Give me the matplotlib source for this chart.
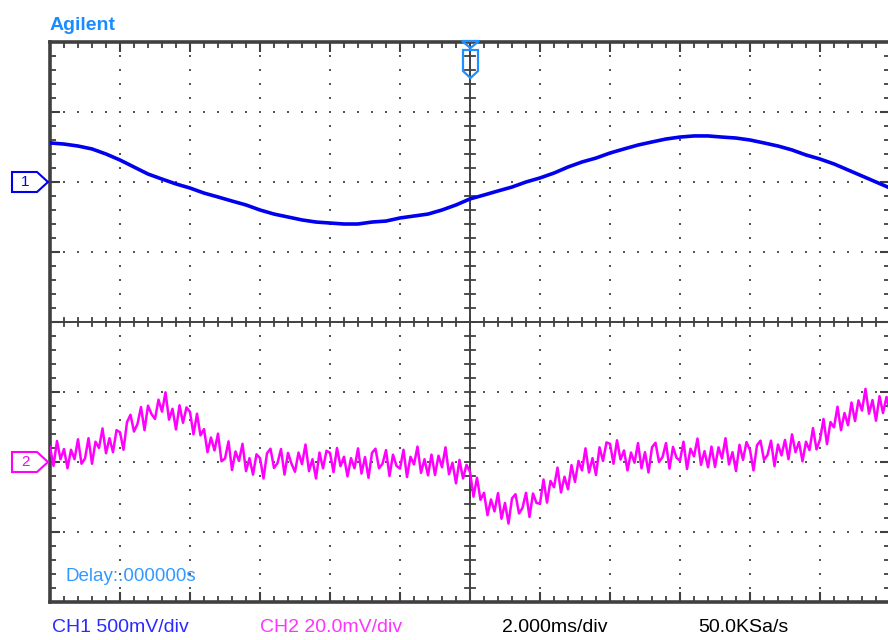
import numpy as np
import matplotlib
matplotlib.use("Agg")
import matplotlib.pyplot as plt
from matplotlib.patches import Polygon

plt.rcParams['font.family'] = ['Liberation Sans', 'DejaVu Sans']

# ---- data ----
# time axis (ms), 2.000 ms/div, trigger at centre
t_start_ms = -12.0
ch1_step_ms = 0.4
ch2_step_ms = 0.1

# CH1 (mV), 500 mV/div, read every 0.4 ms
ch1_mv = [279, 271, 257, 236, 200, 157, 107, 57, 21, -14,
          -43, -79, -107, -136, -164, -200, -229, -250, -271, -286,
          -293, -300, -300, -286, -279, -257, -243, -229, -200, -164,
          -121, -93, -64, -36, 0, 29, 64, 107, 143, 171,
          207, 236, 264, 286, 307, 321, 329, 329, 321, 314,
          300, 279, 257, 229, 193, 164, 129, 86, 43, 0,
          -43]

# CH2 (mV), 20.0 mV/div, read every 0.1 ms
ch2_mv = [4.3, -1.1, 6.0, 0.8, 3.7, -1.8, 3.5, 0.8, 6.5, -0.5,
          1.0, 6.8, -0.5, 5.8, 4.0, 9.6, 2.5, 6.8, 2.8, 9.1,
          8.5, 3.5, 11.4, 13.5, 8.7, 10.9, 15.7, 9.1, 16.1, 13.7,
          12.3, 17.8, 14.4, 19.9, 12.1, 15.2, 9.3, 16.2, 11.2, 15.6,
          14.3, 7.9, 13.8, 7.6, 9.4, 2.8, 7.0, 3.3, 8.1, 0.2,
          1.0, 5.9, -2.3, 3.0, 0.3, 5.2, -2.6, 1.1, -3.6, 2.2,
          1.1, -4.7, 2.5, 3.8, -1.7, -0.3, 3.7, -3.6, 2.6, -0.5,
          -2.8, 2.7, -0.6, 5.0, -2.6, 0.8, -4.7, 2.7, -1.8, 3.2,
          2.6, -2.9, 4.0, -1.2, 1.5, -4.1, 1.1, -1.8, 3.9, -3.3,
          1.4, -4.5, 2.6, 3.8, -1.8, -0.5, 3.4, -4.0, 2.1, -1.1,
          -1.9, 3.5, -4.3, 1.5, -0.7, 4.4, -3.1, 0.8, -3.8, 2.1,
          -3.7, 1.8, -1.5, 4.2, -3.5, -0.2, -6.1, 0.6, -4.7, -0.8,
          -2.8, -9.9, -4.5, -10.8, -8.8, -15.2, -10.7, -14.1, -8.9, -16.2,
          -11.7, -17.6, -10.4, -9.2, -14.7, -13.1, -8.8, -15.7, -9.0, -11.7,
          -11.9, -5.0, -11.6, -5.4, -7.2, -1.6, -8.7, -4.2, -7.8, -0.9,
          -5.7, 0.3, -2.4, 3.9, -3.0, 1.1, -3.7, 4.2, 0.3, 5.6,
          5.2, -0.5, 6.2, 0.7, 3.3, -2.4, 2.7, -0.2, 5.4, -1.8,
          2.8, -3.0, 4.2, 5.5, 0.0, 1.4, 5.4, -1.9, 4.3, 1.2,
          0.4, 5.8, -2.0, 3.8, 1.6, 6.7, -0.8, 3.1, -1.5, 4.4,
          -1.4, 4.2, 1.0, 6.8, -0.7, 2.8, -2.6, 4.9, 0.6, 5.7,
          3.4, -2.4, 4.8, 6.1, 0.6, 2.0, 6.1, -1.2, 5.0, 1.9,
          6.3, 0.8, 7.9, 2.8, 5.7, 0.2, 5.8, 3.4, 9.7, 3.6,
          6.4, 12.3, 5.1, 11.4, 9.9, 15.8, 9.1, 14.0, 10.5, 17.0,
          11.7, 17.6, 14.7, 20.9, 13.8, 17.7, 11.8, 18.8, 14.0, 18.6,
          14.3]

ch1_scale_mv = 500.0
ch2_scale_mv = 20.0
ch1_offset_div = 2.0
ch2_offset_div = -2.0

labels_bottom = ["CH1 500mV/div", "CH2 20.0mV/div", "2.000ms/div", "50.0KSa/s"]
delay_text = "Delay:.000000s"
brand = "Agilent"

# ---- figure ----
W, H = 888, 640
fig = plt.figure(figsize=(W / 100, H / 100), dpi=100)
fig.patch.set_facecolor('white')

def fx(px):
    return px / W

def fy(py):
    return 1 - py / H

ax = fig.add_axes([fx(50), fy(602), 840 / W, 560 / H])
ax.set_xlim(-12, 12)
ax.set_ylim(-4, 4)
ax.set_facecolor('white')

border_col = '#404040'
for s in ax.spines.values():
    s.set_linewidth(2.6)
    s.set_color(border_col)

ax.set_xticks(np.arange(-12, 12.01, 2))
ax.set_xticks(np.arange(-12, 12.01, 0.4), minor=True)
ax.set_yticks(np.arange(-4, 4.01, 1))
ax.set_yticks(np.arange(-4, 4.01, 0.2), minor=True)
ax.tick_params(which='both', direction='in', top=True, right=True,
               labelbottom=False, labelleft=False, color=border_col)
ax.tick_params(which='major', length=7, width=1.5)
ax.tick_params(which='minor', length=4, width=1.3)

# dotted graticule
dot_col = '#555555'
ys_dots = np.arange(-4, 4.01, 0.2)
xs_dots = np.arange(-12, 12.01, 0.4)
for xv in np.arange(-10, 10.01, 2):
    if abs(xv) < 1e-9:
        continue
    ax.scatter(np.full_like(ys_dots, xv), ys_dots, s=3, marker='s',
               color=dot_col, linewidths=0, zorder=1)
for yv in [-3, -2, -1, 1, 2, 3]:
    ax.scatter(xs_dots, np.full_like(xs_dots, yv), s=3, marker='s',
               color=dot_col, linewidths=0, zorder=1)

# centre axes with ticks
ax.axhline(0, color=border_col, lw=1.4, zorder=2)
ax.axvline(0, color=border_col, lw=1.4, zorder=2)
for yv in ys_dots:
    ax.plot([-0.13, 0.13], [yv, yv], color=border_col, lw=1.3, zorder=2)
for xv in xs_dots:
    ax.plot([xv, xv], [-0.06, 0.06], color=border_col, lw=1.3, zorder=2)

# traces
t1 = t_start_ms + ch1_step_ms * np.arange(len(ch1_mv))
t2 = t_start_ms + ch2_step_ms * np.arange(len(ch2_mv))
y1 = ch1_offset_div + np.array(ch1_mv) / ch1_scale_mv
y2 = ch2_offset_div + np.array(ch2_mv) / ch2_scale_mv
ax.plot(t1, y1, color='#0000ee', lw=2.6, zorder=4)
ax.plot(t2, y2, color='#ff00ff', lw=1.8, zorder=3)

# delay text inside graticule
ax.text(-11.57, -3.64, delay_text, color='#3399ff', fontsize=13.5,
        va='center', ha='left', zorder=5)

# brand
fig.text(fx(50), fy(25), brand, color='#1a8cff', fontsize=14,
         fontweight='bold', ha='left', va='center')

# bottom labels
bottom_y = fy(627)
fig.text(fx(52), bottom_y, labels_bottom[0], color='#2a2aff', fontsize=14, ha='left', va='center')
fig.text(fx(260), bottom_y, labels_bottom[1], color='#ff33ff', fontsize=14, ha='left', va='center')
fig.text(fx(502), bottom_y, labels_bottom[2], color='black', fontsize=14, ha='left', va='center')
fig.text(fx(698), bottom_y, labels_bottom[3], color='black', fontsize=14, ha='left', va='center')

# channel markers
def chan_marker(cy, txt, col):
    pts = [(12, cy - 10), (37, cy - 10), (48, cy), (37, cy + 10), (12, cy + 10)]
    poly = Polygon([(fx(x), fy(y)) for x, y in pts], closed=True, fill=False,
                   edgecolor=col, lw=1.5, transform=fig.transFigure)
    fig.add_artist(poly)
    fig.text(fx(25), fy(cy), txt, color=col, fontsize=11, ha='center', va='center')

chan_marker(182, '1', '#0000ee')
chan_marker(462, '2', '#ff00ff')

# trigger position marker
trig_col = '#1e90ff'
tri = [(462, 41), (479, 41), (470.5, 48)]
body = [(463, 50), (478, 50), (478, 71), (470.5, 78), (463, 71)]
for pts in (tri, body):
    fig.add_artist(Polygon([(fx(x), fy(y)) for x, y in pts], closed=True,
                           fill=False, edgecolor=trig_col, lw=1.6,
                           transform=fig.transFigure, zorder=6))

fig.savefig('out.png', dpi=100, facecolor='white')
